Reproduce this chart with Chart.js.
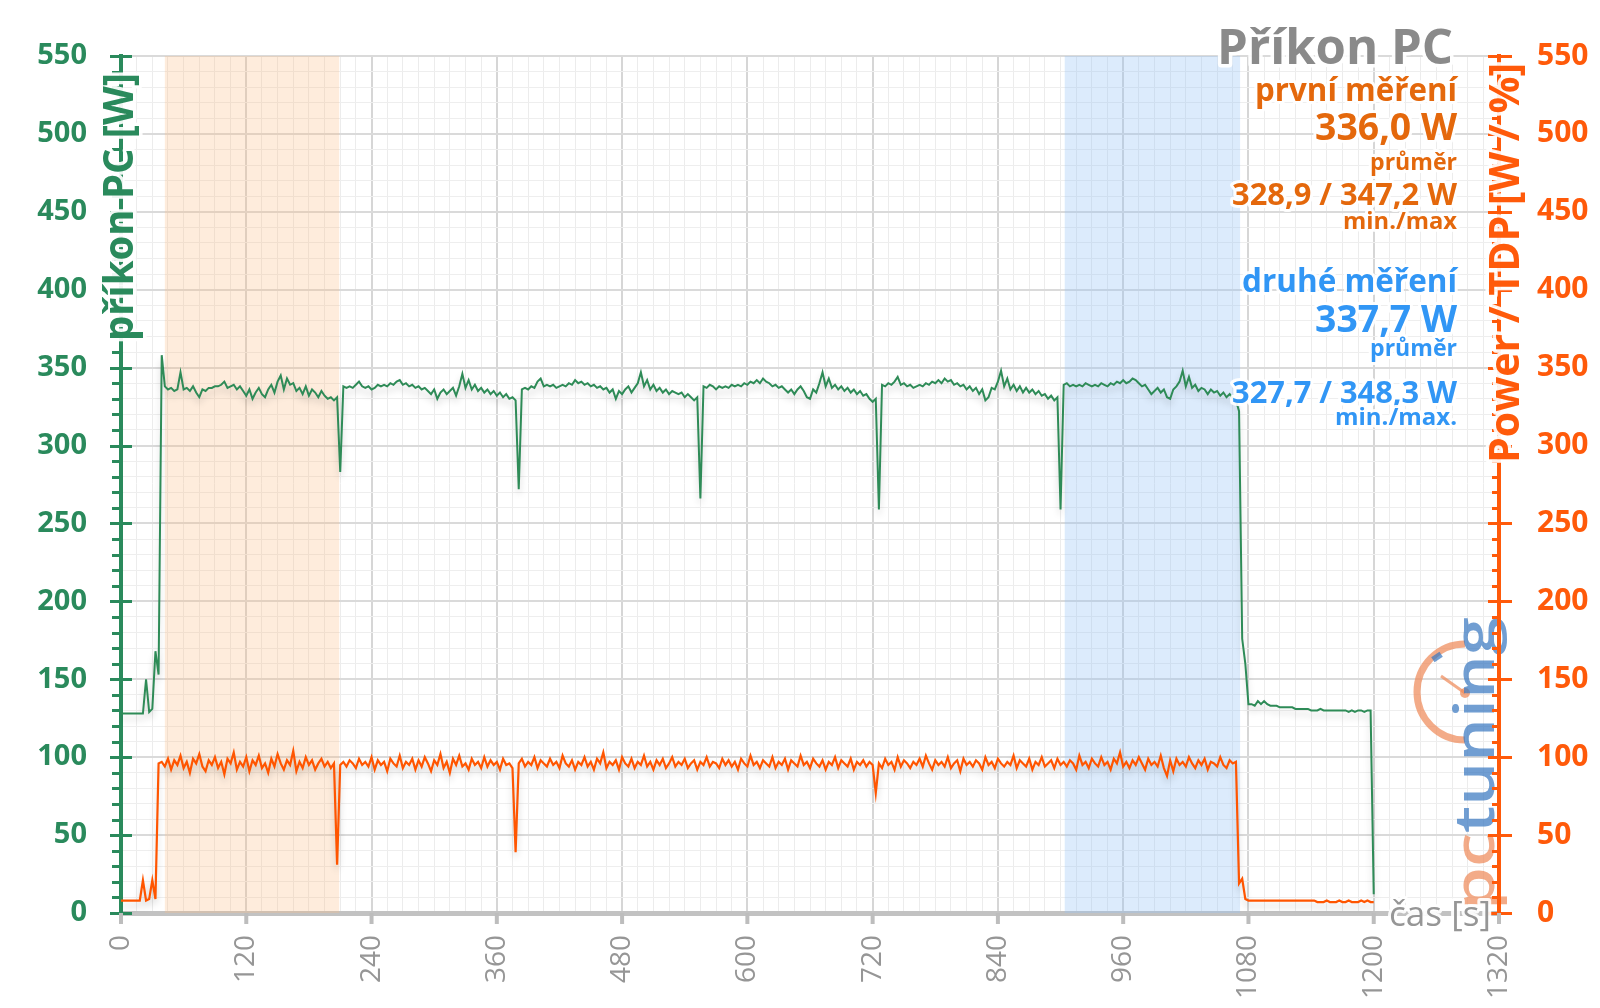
<!DOCTYPE html>
<html><head><meta charset="utf-8">
<script src="https://cdn.jsdelivr.net/npm/chart.js@4.4.1/dist/chart.umd.min.js"></script>
<style>html,body{margin:0;padding:0;background:#fff;}#wrap{width:1600px;height:1008px;}</style>
</head><body><div id="wrap"><canvas id="c" width="1600" height="1008"></canvas></div>
<script>
// ---------- data ----------
const timeStepSeconds = 3;
const pcPower = [
128,128,128,128,128,128,128,128,150,129,131,168,153,358,
338,
336,337,335,336,347,336,337,335,338,334,
331,336,335,337,337,338,338,339,341,337,
338,339,336,338,335,332,336,330,334,337,
333,331,336,339,334,341,345,336,343,339,
340,335,337,333,338,332,336,334,331,335,
332,330,331,329,331,
283,
338,337,338,337,339,341,338,337,338,336,
337,339,338,339,338,340,339,341,342,339,
340,338,339,337,338,336,337,335,333,336,
330,334,336,333,335,337,332,338,346,337,
342,336,339,335,337,334,336,333,335,332,
334,331,333,330,331,329,
272,
336,337,336,338,337,341,343,338,339,338,
339,337,338,339,338,340,339,342,340,341,
339,340,338,339,337,338,336,337,334,336,
330,335,333,336,338,334,337,340,347,338,
342,336,339,335,337,334,336,333,335,334,
333,334,331,333,331,329,331,
266,
338,337,339,338,336,338,337,338,337,339,
338,339,338,340,339,341,340,342,340,343,
341,340,338,339,337,338,336,334,336,333,
336,338,335,331,330,336,334,340,347,338,
343,337,339,336,338,335,337,334,336,333,
335,332,333,330,328,330,
259,
339,338,340,339,341,344,339,340,338,339,
337,338,339,338,340,339,341,340,342,340,
343,341,342,339,340,338,339,336,338,335,
337,333,336,329,331,337,336,341,348,338,
343,336,339,335,338,334,337,334,336,333,
335,332,333,330,332,329,331,
259,
339,340,338,339,338,339,338,340,339,338,
339,338,340,339,338,340,339,341,340,342,
340,341,343,342,340,338,339,336,333,335,
337,334,336,331,330,336,338,341,348,338,
344,337,339,335,337,336,333,336,334,335,
332,334,331,333,330,329,
322,176,160,134,
134,133,136,134,136,134,133,133,133,132,
132,132,132,132,131,131,131,131,131,130,
130,130,131,130,130,130,130,130,130,130,
130,129,130,129,130,130,129,130,130,12
];
const powerTdp = [
8,8,8,8,8,8,8,21,8,9,21,9,96,
97,94,99,92,98,95,101,93,97,90,
99,96,102,94,91,98,95,100,93,97,
89,99,96,103,92,97,94,100,91,98,
95,101,93,96,90,99,94,102,96,92,
98,95,104,91,97,93,100,95,98,92,
96,99,94,97,93,96,
31,
95,97,94,98,96,93,99,95,97,94,
100,92,98,95,97,91,99,96,94,101,
93,97,95,99,92,98,94,100,96,91,
98,95,102,93,97,90,99,95,101,94,
96,92,99,95,97,93,100,94,98,95,
97,92,99,95,96,93,
39,
96,99,94,97,95,100,93,98,96,94,
99,95,97,93,101,96,94,98,92,97,
95,100,94,97,92,99,96,103,93,97,
95,98,92,100,96,94,99,93,97,95,
101,94,97,92,98,95,99,93,96,100,
94,97,95,99,93,96,98,92,97,95,
100,94,97,96,93,99,95,98,94,97,
92,99,96,94,101,95,97,93,98,96,
94,100,93,97,95,99,92,98,96,94,
101,95,97,93,99,96,94,98,92,97,
95,100,93,98,96,94,99,92,97,95,
98,94,97,95,
77,
96,93,99,95,97,92,100,94,98,96,
93,97,95,99,94,101,96,92,98,95,
97,94,100,93,96,98,91,99,95,97,
94,98,96,92,100,95,97,93,99,96,
94,97,95,101,93,98,96,94,99,92,
97,95,100,94,96,98,93,99,95,97,
94,98,96,92,101,95,97,93,99,96,
94,100,95,97,92,99,96,103,94,97,
93,98,95,100,96,92,99,95,97,94,
101,93,88,98,91,99,95,97,94,100,
96,93,98,95,99,92,97,96,94,100,
95,93,98,96,
97,19,22,9,
8,8,8,8,8,8,8,8,8,8,
8,8,8,8,8,8,8,8,8,8,
8,8,7,7,7,8,7,7,7,8,
7,7,8,7,7,7,8,7,8,7,
7
];
const xTickLabels = [0,120,240,360,480,600,720,840,960,1080,1200,1320];
const yTickLabels = [0,50,100,150,200,250,300,350,400,450,500,550];
const firstRunRange = [42, 209];
const secondRunRange = [904, 1072];
const leftAxisTitle = 'příkon PC [W]';
const rightAxisTitle = 'Power / TDP [W / %]';
const xAxisTitle = 'čas [s]';

// ---------- colours ----------
const GREEN = '#2a8a5c', GREEN_LINE = '#2e8b57';
const ORANGE = '#ff5a0a', ORANGE_LINE = '#ff5500', ORANGE_TXT = '#e4680c';
const BLUE_TXT = '#3196f5', GREY_TXT = '#8a8a8a';
const FONT = '"Open Sans"';

function haloFill(ctx, text, x, y, color, halo) {
  if (halo) {
    ctx.lineJoin = 'round';
    ctx.lineWidth = halo;
    ctx.strokeStyle = 'rgba(255,255,255,0.92)';
    ctx.strokeText(text, x, y);
  }
  ctx.fillStyle = color;
  ctx.fillText(text, x, y);
}
function fitText(ctx, text, x, baseY, width, weight, color, align, halo) {
  ctx.save();
  ctx.font = `${weight} 40px ${FONT}`;
  const w = ctx.measureText(text).width;
  const size = 40 * width / w;
  ctx.font = `${weight} ${size}px ${FONT}`;
  ctx.textAlign = align || 'right';
  ctx.textBaseline = 'alphabetic';
  haloFill(ctx, text, x, baseY, color, halo === undefined ? 6 : halo);
  ctx.restore();
}
function fitVertical(ctx, text, baseX, topY, length, weight, color, halo, fontSize) {
  ctx.save();
  ctx.font = `${weight} ${fontSize}px ${FONT}`;
  const w = ctx.measureText(text).width;
  ctx.translate(baseX, topY);
  ctx.rotate(-Math.PI / 2);
  ctx.scale(length / w, 1);
  ctx.textAlign = 'right';
  ctx.textBaseline = 'alphabetic';
  haloFill(ctx, text, 0, 0, color, halo);
  ctx.restore();
}

const decorPlugin = {
  id: 'decor',
  beforeDatasetsDraw(chart) {
    const {ctx, chartArea: a, scales: {x}} = chart;
    ctx.save();
    ctx.fillStyle = 'rgba(250,185,130,0.28)';
    const o1 = x.getPixelForValue(firstRunRange[0]), o2 = x.getPixelForValue(firstRunRange[1]);
    ctx.fillRect(o1, a.top, o2 - o1, a.bottom - a.top);
    ctx.fillStyle = 'rgba(150,195,245,0.33)';
    const b1 = x.getPixelForValue(secondRunRange[0]), b2 = x.getPixelForValue(secondRunRange[1]);
    ctx.fillRect(b1, a.top, b2 - b1, a.bottom - a.top);
    ctx.restore();

    // pctuning logo (watermark)
    ctx.save();
    ctx.globalAlpha = 0.72;
    ctx.strokeStyle = '#ee8a5a';
    ctx.lineWidth = 7;
    ctx.beginPath();
    ctx.arc(1465, 692, 48, Math.PI / 2, Math.PI * 1.5, false);
    ctx.stroke();
    ctx.lineWidth = 3;
    ctx.beginPath(); ctx.moveTo(1441, 676); ctx.lineTo(1465, 693); ctx.stroke();
    ctx.fillStyle = '#ee8a5a';
    ctx.beginPath(); ctx.arc(1465, 693, 5, 0, Math.PI * 2); ctx.fill();
    ctx.fillStyle = '#3a78c0';
    ctx.save(); ctx.translate(1437, 657); ctx.rotate(-0.6); ctx.fillRect(-5, -3, 10, 6); ctx.restore();
    ctx.font = `600 56px ${FONT}`;
    const wPc = ctx.measureText('pc').width, wAll = ctx.measureText('pctuning').width;
    const sc = 293 / wAll;
    ctx.translate(1494, 910);
    ctx.rotate(-Math.PI / 2);
    ctx.scale(sc, 1);
    ctx.textAlign = 'left';
    ctx.fillStyle = '#ee8a5a';
    ctx.fillText('pc', 0, 0);
    ctx.fillStyle = '#3a78c0';
    ctx.fillText('tuning', wPc, 0);
    ctx.restore();
  },
  beforeDatasetDraw(chart) {
    const ctx = chart.ctx;
    ctx.save();
    ctx.shadowColor = 'rgba(0,0,0,0.18)';
    ctx.shadowBlur = 7;
    ctx.shadowOffsetY = 5;
  },
  afterDatasetDraw(chart) {
    chart.ctx.restore();
  },
  afterDraw(chart) {
    const {ctx, chartArea: a, scales: {x, y, y2}} = chart;
    ctx.save();
    ctx.lineCap = 'butt';
    ctx.strokeStyle = GREEN;
    for (const t of y.ticks) {
      const py = Math.round(y.getPixelForValue(t.value)) + 0.5;
      const major = yTickLabels.includes(t.value);
      ctx.lineWidth = 3;
      ctx.beginPath();
      ctx.moveTo(major ? 110 : 112, py);
      ctx.lineTo(major ? 132 : 119, py);
      ctx.stroke();
    }
    ctx.strokeStyle = ORANGE;
    ctx.lineWidth = 4;
    ctx.beginPath(); ctx.moveTo(a.right, a.top); ctx.lineTo(a.right, a.bottom); ctx.stroke();
    for (const t of y.ticks) {
      const py = Math.round(y2.getPixelForValue(t.value)) + 0.5;
      const major = yTickLabels.includes(t.value);
      ctx.lineWidth = 3;
      ctx.beginPath();
      ctx.moveTo(major ? a.right - 11 : a.right - 7, py);
      ctx.lineTo(major ? a.right + 13 : a.right, py);
      ctx.stroke();
    }
    ctx.strokeStyle = '#bdbdbd';
    ctx.lineWidth = 4;
    for (const v of xTickLabels) {
      const px = x.getPixelForValue(v);
      ctx.beginPath(); ctx.moveTo(px, a.bottom); ctx.lineTo(px, a.bottom + 11); ctx.stroke();
    }
    ctx.restore();

    fitVertical(ctx, leftAxisTitle, 133, 73, 268, 'bold', GREEN, 7, 42);
    fitVertical(ctx, rightAxisTitle, 1519, 63, 400, 'bold', ORANGE, 7, 42);
    fitText(ctx, xAxisTitle, 1389, 926, 102, 'normal', '#969696', 'left', 6);

    const R = 1457;
    fitText(ctx, 'Příkon PC', 1453, 64, 236, 'bold', GREY_TXT, 'right', 7);
    fitText(ctx, 'první měření', R, 101, 202, 'bold', ORANGE_TXT);
    fitText(ctx, '336,0 W', R, 140, 142, 'bold', ORANGE_TXT);
    fitText(ctx, 'průměr', R, 170, 87, 'bold', ORANGE_TXT);
    fitText(ctx, '328,9 / 347,2 W', R, 205, 225, 'bold', ORANGE_TXT);
    fitText(ctx, 'min./max', R, 229, 114, 'bold', ORANGE_TXT);
    fitText(ctx, 'druhé měření', R, 292, 215, 'bold', BLUE_TXT);
    fitText(ctx, '337,7 W', R, 332, 142, 'bold', BLUE_TXT);
    fitText(ctx, 'průměr', R, 356, 87, 'bold', BLUE_TXT);
    fitText(ctx, '327,7 / 348,3 W', R, 403, 225, 'bold', BLUE_TXT);
    fitText(ctx, 'min./max.', R, 425, 122, 'bold', BLUE_TXT);
  }
};

const greenData = pcPower.map((v, i) => ({x: i * timeStepSeconds, y: v}));
const orangeData = powerTdp.map((v, i) => ({x: i * timeStepSeconds, y: v}));

new Chart(document.getElementById('c'), {
  type: 'line',
  data: {
    datasets: [
      {label: 'příkon PC', data: greenData, yAxisID: 'y', borderColor: GREEN_LINE, borderWidth: 2, pointRadius: 0, tension: 0},
      {label: 'Power / TDP', data: orangeData, yAxisID: 'y2', borderColor: ORANGE_LINE, borderWidth: 2.2, pointRadius: 0, tension: 0}
    ]
  },
  options: {
    responsive: false,
    devicePixelRatio: 1,
    animation: false,
    layout: {padding: {top: 55, left: 0, right: 0, bottom: 0}},
    plugins: {legend: {display: false}, tooltip: {enabled: false}},
    scales: {
      x: {
        type: 'linear', min: 0, max: 1320,
        ticks: {
          stepSize: 15, autoSkip: false, minRotation: 90, maxRotation: 90, padding: 22,
          color: '#969696', font: {family: 'Open Sans', size: 28, weight: 'normal'},
          callback: v => xTickLabels.includes(v) ? String(v) : ''
        },
        grid: {
          drawTicks: false,
          color: c => xTickLabels.includes(c.tick && c.tick.value) ? '#d6d6d6' : '#ececec',
          lineWidth: c => xTickLabels.includes(c.tick && c.tick.value) ? 2 : 1
        },
        border: {color: '#c2c2c2', width: 5},
        afterFit: s => { s.height = 95; }
      },
      y: {
        position: 'left', min: 0, max: 550,
        ticks: {
          stepSize: 10, autoSkip: false, padding: 34,
          color: GREEN, font: {family: 'Open Sans', size: 29, weight: 'bold'},
          callback: v => yTickLabels.includes(v) ? String(v) : ''
        },
        grid: {
          drawTicks: false,
          color: c => yTickLabels.includes(c.tick && c.tick.value) ? '#dadada' : '#eeeeee',
          lineWidth: c => yTickLabels.includes(c.tick && c.tick.value) ? 2 : 1
        },
        border: {color: GREEN, width: 4},
        afterFit: s => { s.width = 121; }
      },
      y2: {
        position: 'right', min: 0, max: 550,
        ticks: {
          stepSize: 50, autoSkip: false, padding: 38,
          color: ORANGE, font: {family: 'Open Sans', size: 30, weight: 'bold'},
          callback: v => yTickLabels.includes(v) ? String(v) : ''
        },
        grid: {drawOnChartArea: false, drawTicks: false},
        border: {color: ORANGE, width: 4},
        afterFit: s => { s.width = 101; }
      }
    }
  },
  plugins: [decorPlugin]
});
</script>
</body></html>
